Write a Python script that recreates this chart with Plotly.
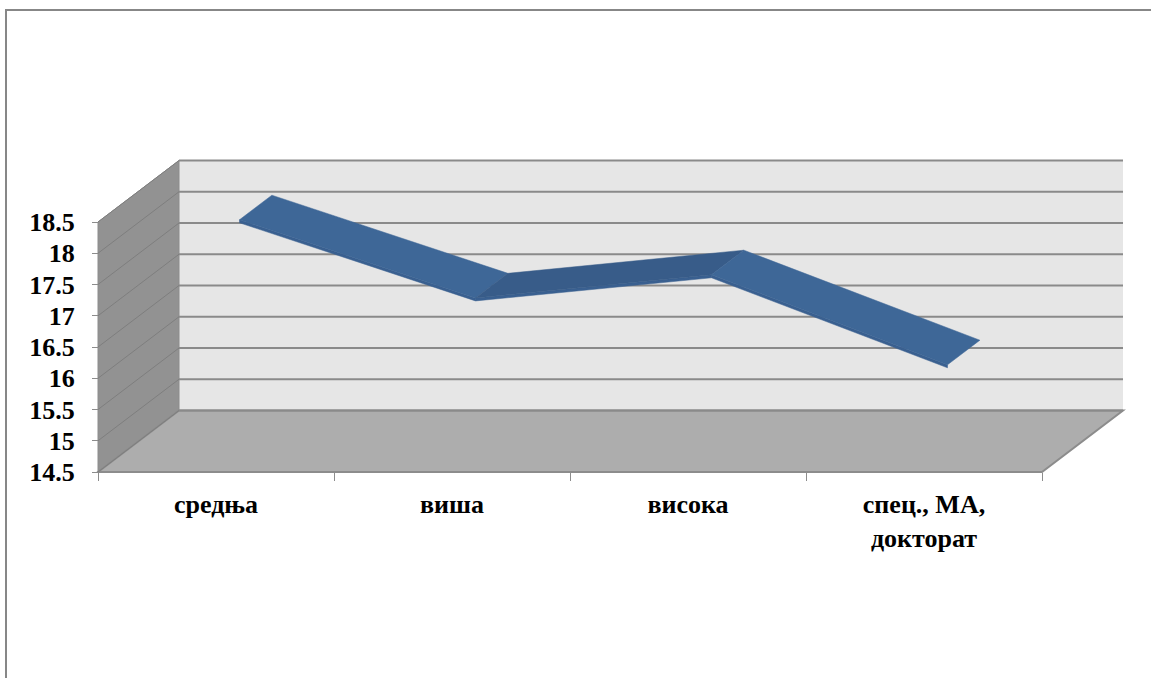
import plotly.graph_objects as go

# ---- data ----
categories = ["средња", "виша", "висока", "спец., МА,<br>докторат"]
values = [18.25, 17.0, 17.37, 15.93]
y_ticks = [14.5, 15, 15.5, 16, 16.5, 17, 17.5, 18, 18.5]
y_ticktext = ["14.5", "15", "15.5", "16", "16.5", "17", "17.5", "18", "18.5"]

# ---- geometry (oblique 3D look) ----
W, H = 1151, 678
X0_PX, X1_PX = 98, 1042          # front category axis pixel extent
Y0_PX, Y1_PX = 472, 222          # front value axis pixel extent (14.5 -> 18.5)
n = len(categories)
xmin, xmax = -0.5, n - 0.5
ymin, ymax = y_ticks[0], y_ticks[-1]
pxx = (X1_PX - X0_PX) / (xmax - xmin)
pxy = (Y0_PX - Y1_PX) / (ymax - ymin)
xr = [xmin - X0_PX / pxx, xmin + (W - X0_PX) / pxx]
yr = [ymin - (H - Y0_PX) / pxy, ymin + Y0_PX / pxy]
DX = 81 / pxx                    # depth offset in data units
DY = 61.5 / pxy
F1, F2 = 0.29, 0.69              # ribbon depth fractions
THICK = 3 / pxy

WALL = "#e6e6e6"
SIDE = "#929292"
FLOOR = "#adadad"
GRID = "#8a8a8a"
EDGE = "#8c8c8c"
SERIF = "Liberation Serif"

shapes = []
# back wall
shapes.append(dict(type="rect", xref="x", yref="y", layer="below",
                   x0=xmin + DX, x1=xmax + DX, y0=ymin + DY, y1=ymax + DY,
                   fillcolor=WALL, line=dict(width=0)))
# side wall
shapes.append(dict(type="path", xref="x", yref="y", layer="below",
                   path=f"M{xmin},{ymin} L{xmin},{ymax} L{xmin+DX},{ymax+DY} L{xmin+DX},{ymin+DY} Z",
                   fillcolor=SIDE, line=dict(color=EDGE, width=1)))
# floor
shapes.append(dict(type="path", xref="x", yref="y", layer="below",
                   path=f"M{xmin},{ymin} L{xmax},{ymin} L{xmax+DX},{ymin+DY} L{xmin+DX},{ymin+DY} Z",
                   fillcolor=FLOOR, line=dict(color=EDGE, width=2)))
# gridlines on back wall and side wall
for v in y_ticks:
    shapes.append(dict(type="line", xref="x", yref="y", layer="below",
                       x0=xmin + DX, x1=xmax + DX, y0=v + DY, y1=v + DY,
                       line=dict(color=GRID, width=2)))
    shapes.append(dict(type="line", xref="x", yref="y", layer="below",
                       x0=xmin, x1=xmin + DX, y0=v, y1=v + DY,
                       line=dict(color="#7e7e7e", width=1)))
# chart border
shapes.append(dict(type="rect", xref="paper", yref="paper",
                   x0=6 / W, x1=1.01, y0=-0.01, y1=1 - 10 / H,
                   line=dict(color="#878787", width=2), fillcolor="rgba(0,0,0,0)"))

fig = go.Figure()

def pt(i, f, dy=0.0):
    return i + DX * f, values[i] + DY * f + dy

# ribbon: front thickness strips
for i in range(n - 1):
    a = pt(i, F1); b = pt(i + 1, F1)
    xs = [a[0], b[0], b[0], a[0], a[0]]
    ys = [a[1], b[1], b[1] - THICK, a[1] - THICK, a[1]]
    fig.add_trace(go.Scatter(x=xs, y=ys, mode="lines", fill="toself",
                             fillcolor="#3a6090", line=dict(color="#3a6090", width=0.5),
                             hoverinfo="skip", showlegend=False))
# ribbon: top faces
for i in range(n - 1):
    a = pt(i, F1); b = pt(i + 1, F1); c = pt(i + 1, F2); d = pt(i, F2)
    up = values[i + 1] > values[i]
    col = "#385c89" if up else "#3e6797"
    fig.add_trace(go.Scatter(x=[a[0], b[0], c[0], d[0], a[0]],
                             y=[a[1], b[1], c[1], d[1], a[1]],
                             mode="lines", fill="toself", fillcolor=col,
                             line=dict(color=col, width=0.5),
                             hoverinfo="skip", showlegend=False))

fig.update_layout(
    width=W, height=H, margin=dict(l=0, r=0, t=0, b=0),
    paper_bgcolor="white", plot_bgcolor="white",
    shapes=shapes, showlegend=False,
    font=dict(family=SERIF, color="black"),
    xaxis=dict(range=xr, domain=[0, 1], anchor="free", position=(H - Y0_PX) / H,
               tickvals=list(range(n)), ticktext=[f"<b>{c}</b>" for c in categories],
               ticks="", showgrid=False, zeroline=False, showline=False,
               tickfont=dict(family=SERIF, size=26, color="black"),
               ticklabelstandoff=14,
               minor=dict(tickvals=[xmin + k for k in range(n + 1)], ticks="outside",
                          ticklen=8, tickcolor=EDGE, tickwidth=1, showgrid=False)),
    yaxis=dict(range=yr, domain=[0, 1], anchor="free", position=X0_PX / W,
               tickvals=y_ticks, ticktext=[f"<b>{t}</b>" for t in y_ticktext],
               ticks="outside", ticklen=6, tickcolor=EDGE, tickwidth=1,
               ticklabelstandoff=12,
               showgrid=False, zeroline=False, showline=False,
               tickfont=dict(family=SERIF, size=26, color="black")),
)

fig.write_html("out.html")
